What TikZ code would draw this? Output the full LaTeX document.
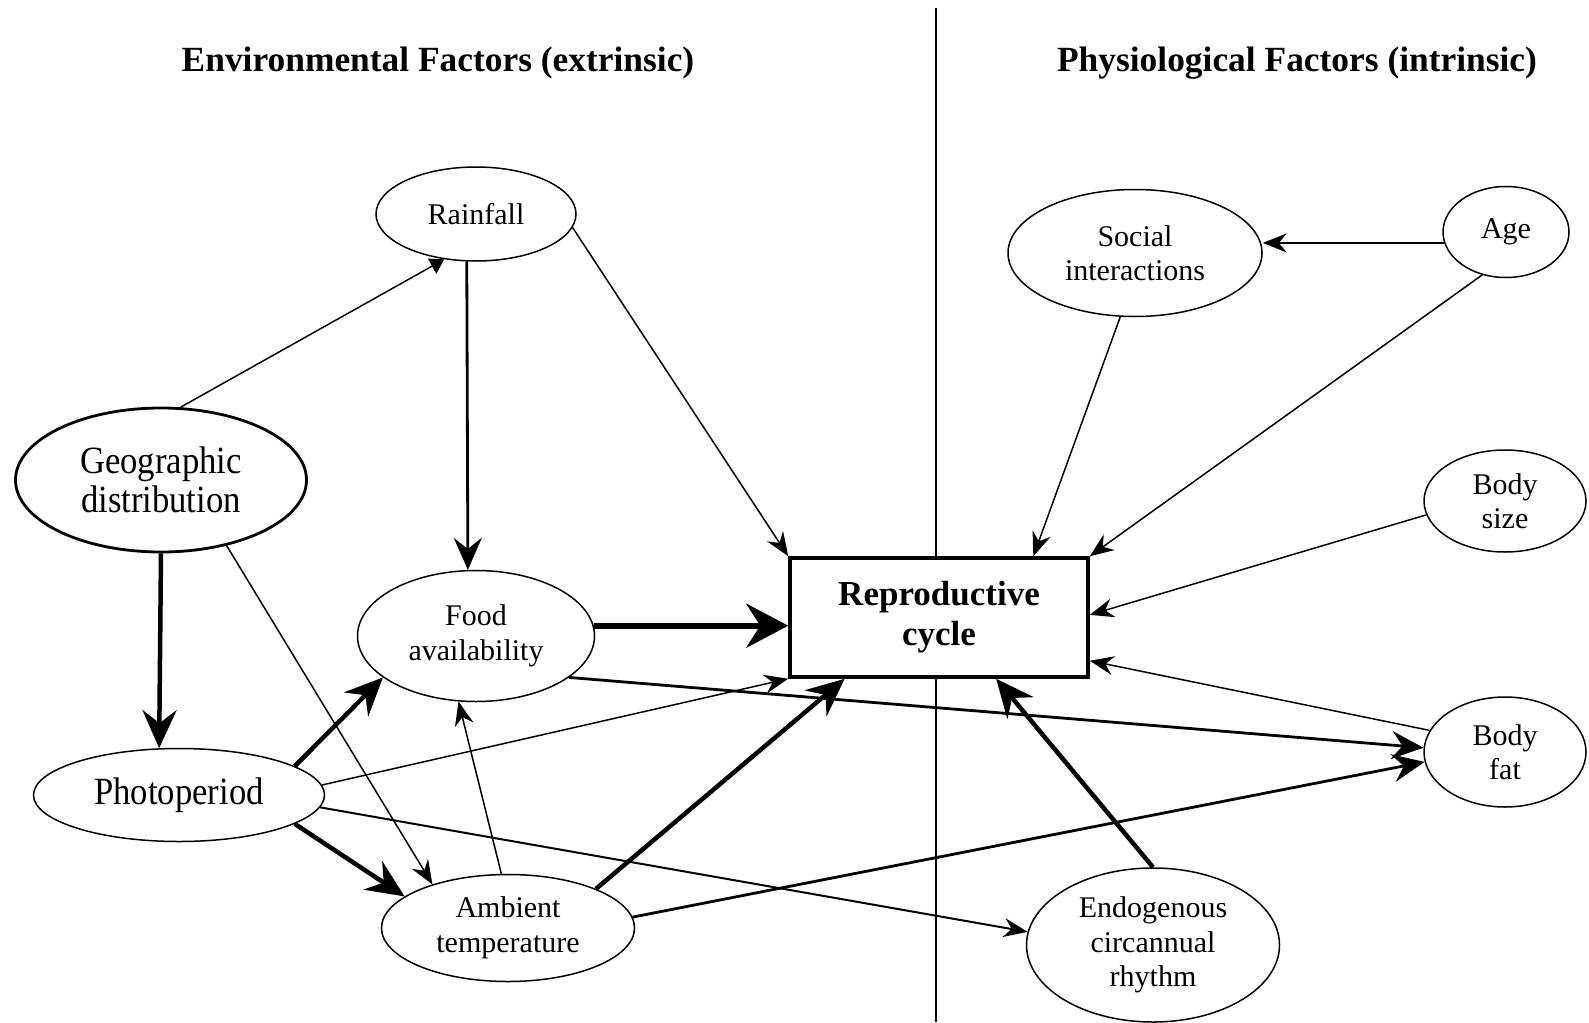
\documentclass[tikz,border=0pt]{standalone}
\usepackage{fontspec}
\setmainfont{Liberation Serif}
\newfontfamily\narrowfont[FakeStretch=0.9]{Liberation Serif}
\usepackage{tikz}
\usetikzlibrary{arrows.meta, shapes}

\begin{document}
\begin{tikzpicture}[x=1pt, y=-1pt,
        factor/.style={ellipse, draw, line width=1.5pt, inner sep=0pt, align=center,
            font=\fontsize{30}{34.5}\selectfont},
        bigfactor/.style={ellipse, draw, line width=2.8pt, inner sep=0pt, align=center,
            font=\narrowfont\fontsize{38.5}{39}\selectfont},
        heading/.style={anchor=base, font=\bfseries\fontsize{35.4}{40}\selectfont},
        thinarr/.style={line width=1.5pt, -{Stealth[length=24pt, width=19pt, inset=8pt]}},
        medarr/.style={line width=2.8pt, -{Stealth[length=32pt, width=28pt, inset=11pt]}},
        thickarr/.style={line width=4.5pt, -{Stealth[length=38pt, width=34pt, inset=13pt]}},
        hugearr/.style={line width=6pt, -{Stealth[length=42pt, width=44pt, inset=14pt]}},
        triarr/.style={line width=1.5pt, -{Triangle[length=14pt, width=17pt]}}]
        \useasboundingbox[fill=white] (0,0) rectangle (1589,1022);

        % headings and divider
        \node[heading] (envtitle) at (438,72) {Environmental Factors (extrinsic)};
        \node[heading] (phystitle) at (1297,72) {Physiological Factors (intrinsic)};
        \draw[line width=1.8pt] (936,8) -- (936,1022);

        % extrinsic side
        \node[factor, minimum width=200pt, minimum height=94pt] (rain) at (476,214) {Rainfall};
        \node[bigfactor, minimum width=291pt, minimum height=144pt] (geo) at (161,480) {Geographic\\distribution};
        \node[factor, minimum width=237pt, minimum height=131pt] (food) at (476,636) {Food\\availability};
        \node[bigfactor, line width=1.5pt, minimum width=291pt, minimum height=93pt] (photo) at (179,795) {Photoperiod};
        \node[factor, minimum width=253pt, minimum height=107pt] (amb) at (508,928) {Ambient\\temperature};

        % centre
        \node[draw, fill=white, line width=3.5pt, minimum width=298pt, minimum height=119pt, align=center,
            font=\bfseries\fontsize{35}{40}\selectfont] (cycle) at (939,617.5) {Reproductive\\cycle};

        % intrinsic side
        \node[factor, minimum width=254pt, minimum height=127pt] (social) at (1135,253) {Social\\interactions};
        \node[factor, minimum width=126pt, minimum height=91pt] (age) at (1506,232) {Age};
        \node[factor, minimum width=162pt, minimum height=102pt] (bsize) at (1505,501) {Body\\size};
        \node[factor, minimum width=162pt, minimum height=110pt] (bfat) at (1505,752) {Body\\fat};
        \node[factor, minimum width=253pt, minimum height=154pt] (endo) at (1153,945) {Endogenous\\circannual\\rhythm};

        % links
        \draw[triarr] (geo.75) -- (rain.235);
        \draw[medarr] (rain.259) -- (food.97);
        \draw[thinarr] (rain.352) -- (cycle.north west);
        \draw[thickarr] (geo.270) -- (photo.113);
        \draw[thinarr] (geo.315) -- (amb.150);
        \draw[thickarr] (photo.14) -- (food.204);
        \draw[thickarr] (photo.346) -- (amb.163);
        \draw[thinarr] (photo.4) -- (cycle.south west);
        \draw[thinarr, line width=2pt] (photo.355) -- (endo.174);
        \draw[hugearr] (food.5) -- (food.5 -| cycle.west);
        \draw[medarr] (food.336) -- (bfat.177);
        \draw[thinarr] (amb.97) -- (food.255);
        \draw[thickarr] (amb.24) -- (cycle.213);
        \draw[medarr] (amb.5) -- (bfat.187);
        \draw[thinarr] (social.257) -- (cycle.33);
        \draw[thinarr] (age.190) -- (age.190 -| social.east);
        \draw[thinarr] (age.241) -- (cycle.north east);
        \draw[thinarr] (bsize.190) -- (cycle.1);
        \draw[thinarr] (bfat.164) -- (cycle.344);
        \draw[thickarr] (endo.90) -- (cycle.313);
\end{tikzpicture}
\end{document}
